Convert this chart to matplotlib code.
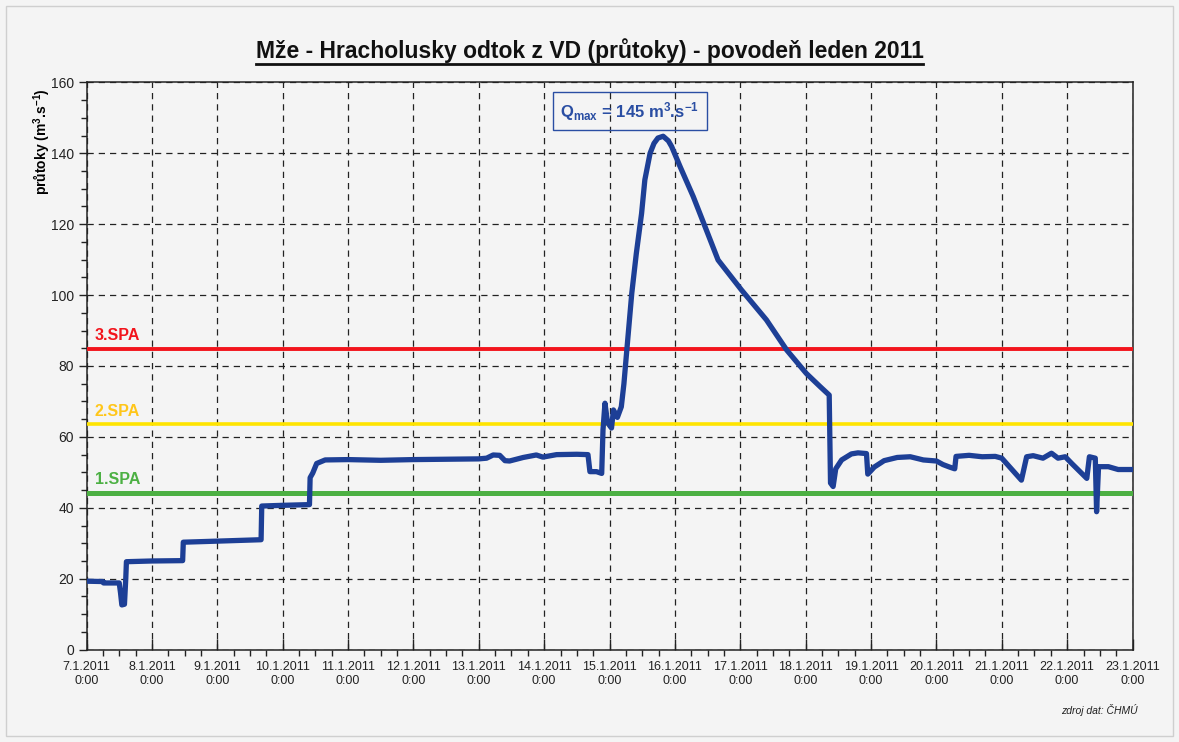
"""
Mže - Hracholusky: odtok z VD během povodně v lednu 2011.
"""

import numpy as np
import pandas as pd
import matplotlib
matplotlib.use("Agg")
import matplotlib.pyplot as plt
import matplotlib.dates as mdates
from matplotlib.lines import Line2D
from matplotlib.patches import Rectangle

plt.rcParams['font.family'] = ['Liberation Sans', 'DejaVu Sans']
plt.rcParams['mathtext.fontset'] = 'custom'
plt.rcParams['mathtext.rm'] = 'Liberation Sans'
plt.rcParams['mathtext.bf'] = 'Liberation Sans:bold'
plt.rcParams['mathtext.it'] = 'Liberation Sans:italic'

# data: dny od 7.1.2011 0:00 a průtok (m3/s)
days = [0.00, 0.25, 0.26, 0.50, 0.52, 0.54, 0.58, 0.60, 0.61, 1.00, 1.47, 1.48,
        2.00, 2.67, 2.68, 3.00, 3.41, 3.42, 3.46, 3.52, 3.65, 4.00, 4.50, 5.00,
        5.50, 6.00, 6.12, 6.22, 6.32, 6.40, 6.47, 6.68, 6.88, 6.98, 7.19, 7.50,
        7.67, 7.70, 7.80, 7.88, 7.90, 7.93, 7.97, 8.03, 8.06, 8.12, 8.18, 8.22,
        8.26, 8.34, 8.41, 8.49, 8.54, 8.62, 8.68, 8.74, 8.82, 8.90, 8.95, 9.08,
        9.28, 9.48, 9.66, 10.02, 10.40, 10.71, 11.01, 11.22, 11.36, 11.38, 11.42,
        11.46, 11.55, 11.70, 11.80, 11.93, 11.95, 12.05, 12.20, 12.40, 12.60, 12.80,
        13.00, 13.10, 13.20, 13.28, 13.30, 13.50, 13.70, 13.90, 14.00, 14.30,
        14.38, 14.48, 14.63, 14.76, 14.86, 14.97, 15.07, 15.30, 15.34, 15.43,
        15.45, 15.48, 15.63, 15.78, 16.00]
flow = [19.3, 19.2, 18.8, 18.8, 16.0, 12.6, 12.8, 20.0, 24.8, 25.0, 25.1, 30.3,
        30.6, 31.0, 40.5, 40.7, 40.9, 48.5, 49.8, 52.5, 53.5, 53.6, 53.4, 53.6,
        53.7, 53.8, 54.0, 54.9, 54.8, 53.3, 53.2, 54.2, 54.9, 54.3, 55.0, 55.1,
        55.0, 50.2, 50.2, 49.7, 62.0, 69.5, 64.0, 62.5, 67.6, 65.5, 68.5, 75.0,
        83.6, 100.5, 111.8, 123.0, 132.5, 140.0, 142.8, 144.3, 144.8, 143.5, 141.9, 136.2,
        127.8, 118.4, 109.9, 101.4, 93.0, 84.5, 77.9, 74.2, 71.8, 47.0, 46.0,
        51.0, 53.5, 55.2, 55.5, 55.3, 49.5, 51.5, 53.3, 54.2, 54.4, 53.5,
        53.2, 52.2, 51.5, 51.0, 54.5, 54.8, 54.4, 54.5, 54.0, 47.8,
        54.4, 54.7, 54.0, 55.4, 54.0, 54.4, 52.5, 48.3, 54.4, 54.0,
        38.9, 51.6, 51.6, 50.8, 50.8]

spa_labels = ['1.SPA', '2.SPA', '3.SPA']
spa_values = [44.3, 63.5, 84.8]
spa_colors = ['#4cb043', '#ffe400', '#f2141c']
spa_text_colors = ['#4cb043', '#ffc61a', '#f2141c']
spa_widths = [3.6, 2.6, 2.8]

start = pd.Timestamp('2011-01-07 00:00')
end = pd.Timestamp('2011-01-23 00:00')
times = start + pd.to_timedelta(days, unit='D')

bg = '#f4f4f4'
fig = plt.figure(figsize=(11.79, 7.42), dpi=100, facecolor=bg)
ax = fig.add_axes([0.0734, 0.1245, 0.8872, 0.7645], facecolor=bg)

ax.grid(True, which='major', color='#222222', linestyle=(0, (5, 4)), linewidth=0.9)

for lab, val, col, tcol, lw in zip(spa_labels, spa_values, spa_colors,
                                   spa_text_colors, spa_widths):
    ax.axhline(val, color=col, linewidth=lw, zorder=3)
    ax.text(start + pd.Timedelta(hours=3), val + 1.6, lab, color=tcol,
            fontsize=11.5, fontweight='bold', va='bottom', ha='left', zorder=4)

ax.plot(times, flow, color='#1d3f96', linewidth=3.8, solid_joinstyle='round',
        solid_capstyle='round', zorder=5)

ax.set_xlim(start, end)
ax.set_ylim(0, 160)
ax.set_yticks(np.arange(0, 161, 20))
ax.set_yticks(np.arange(0, 161, 5), minor=True)
ax.xaxis.set_major_locator(mdates.DayLocator())
ax.xaxis.set_minor_locator(mdates.HourLocator(byhour=[6, 12, 18]))
ax.xaxis.set_major_formatter(mdates.DateFormatter('%-d.%-m.%Y\n%-H:%M'))

ax.tick_params(axis='x', which='major', direction='in', length=8, width=1,
               labelsize=9, colors='#222222', pad=8)
ax.tick_params(axis='x', which='minor', direction='out', length=4, width=1,
               color='#222222')
ax.tick_params(axis='y', which='major', direction='out', length=6, width=1,
               labelsize=10, colors='#222222', pad=3)
ax.tick_params(axis='y', which='minor', direction='out', length=4, width=1,
               color='#222222')
for s in ax.spines.values():
    s.set_color('#222222')
    s.set_linewidth(1.1)

ax.set_ylabel('průtoky (m$^\\mathbf{3}$.s$^\\mathbf{-1}$)', fontsize=10,
              fontweight='bold')
ax.yaxis.set_label_coords(-0.032, 0.895)

ax.text(start + pd.Timedelta(days=8.31), 151.9,
        'Q$_{\\mathbf{max}}$ = 145 m$^\\mathbf{3}$.s$^\\mathbf{-1}$',
        color='#2a4ea3', fontsize=12, fontweight='bold', ha='center',
        va='center', zorder=6,
        bbox=dict(boxstyle='square,pad=0.45', facecolor='none',
                  edgecolor='#2a4ea3', linewidth=1.0))

title = fig.text(0.5, 0.922, 'Mže - Hracholusky odtok z VD (průtoky) - povodeň leden 2011',
                 ha='center', va='baseline', fontsize=16.5, fontweight='bold',
                 color='#111111')
fig.text(0.965, 0.038, 'zdroj dat: ČHMÚ', ha='right', va='baseline',
         fontsize=7.5, style='italic', color='#222222')

# podtržení nadpisu
fig.canvas.draw()
bb = title.get_window_extent().transformed(fig.transFigure.inverted())
fig.add_artist(Line2D([bb.x0, bb.x1], [0.914, 0.914], color='#111111',
                      linewidth=2.0, transform=fig.transFigure))

# rámeček kolem obrázku
fig.add_artist(Rectangle((0.005, 0.008), 0.99, 0.984, transform=fig.transFigure,
                         fill=False, edgecolor='#cfcfcf', linewidth=1.0))

fig.savefig('out.png', dpi=100, facecolor=bg)
